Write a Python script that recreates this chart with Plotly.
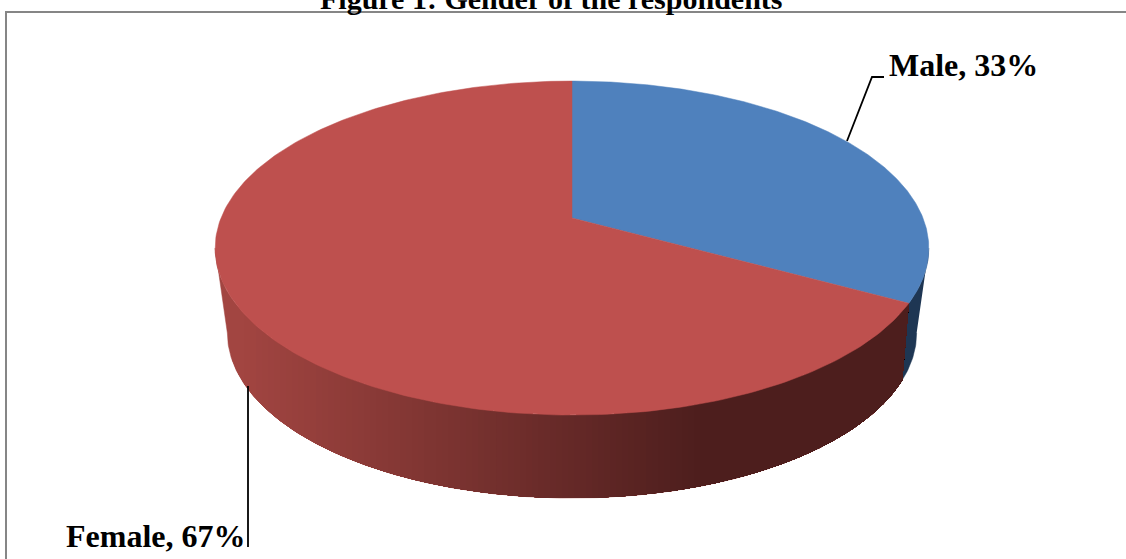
import numpy as np
import plotly.graph_objects as go

categories = ["Male", "Female"]
values = [33, 67]
top_colors = ["#4F81BD", "#BE504E"]
title_text = "Figure 1: Gender of the respondents"

W, H = 1126, 559
CX = 572.0
P = 0.18
TOP = (218.0, 351.0, 161.6)
BOT = (303.3, 339.0, 159.7)
BOTTOM_SHIFT = np.radians(2.5)


def rim(theta, y0, a, b):
    w = 1 + P * np.cos(theta)
    return CX + a * np.sin(theta) / w, y0 - b * np.cos(theta) / w


def wall_color(x):
    t = np.clip((x - 240.0) / (700.0 - 240.0), 0, 1)
    c0, c1 = (162, 69, 65), (77, 30, 29)
    return "rgb(%d,%d,%d)" % tuple(round(a + (b - a) * t) for a, b in zip(c0, c1))


def clip_right_of(xs, ys, x0):
    """Keep the part of a polygon that lies at x >= x0."""
    out_x, out_y = [], []
    n = len(xs)
    for i in range(n):
        x1, y1, x2, y2 = xs[i], ys[i], xs[(i + 1) % n], ys[(i + 1) % n]
        if x1 >= x0:
            out_x.append(x1)
            out_y.append(y1)
        if (x1 >= x0) != (x2 >= x0):
            t = (x0 - x1) / (x2 - x1)
            out_x.append(x0)
            out_y.append(y1 + t * (y2 - y1))
    return out_x, out_y


fracs = np.cumsum([0] + values) / sum(values) * 2 * np.pi
boundary = fracs[1]
right_tan = np.arccos(-P)
left_tan = 2 * np.pi - right_tan

fig = go.Figure()


def poly(xs, ys, color, line=True):
    fig.add_trace(go.Scatter(x=list(xs), y=list(ys), mode="lines", fill="toself",
                             fillcolor=color,
                             line=dict(color=color, width=0.5 if line else 0),
                             hoverinfo="skip", showlegend=False))


# Male wall
tt = np.linspace(right_tan, boundary + 0.05, 40)
bb = np.linspace(right_tan, boundary + 0.05, 40)
xt, yt = rim(tt, *TOP)
xb, yb = rim(bb, *BOT)
poly(np.r_[xt, xb[::-1]], np.r_[yt, yb[::-1]], "#1E3653")

# Female wall: same outline repainted from left to right with darker vertical bands
tt = np.linspace(boundary, left_tan, 300)
bb = np.linspace(boundary - BOTTOM_SHIFT, left_tan, 300)
xt, yt = rim(tt, *TOP)
xb, yb = rim(bb, *BOT)
wx = np.r_[xt, xb[::-1]].tolist()
wy = np.r_[yt, yb[::-1]].tolist()
poly(wx, wy, wall_color(215))
for x0 in np.arange(232, 712, 6.0):
    cx, cy = clip_right_of(wx, wy, float(x0))
    poly(cx, cy, wall_color(float(x0) + 3), line=False)

# Top faces
for i, name in enumerate(categories):
    th = np.linspace(fracs[i], fracs[i + 1], 240)
    x, y = rim(th, *TOP)
    poly(np.r_[CX, x, CX], np.r_[TOP[0], y, TOP[0]], top_colors[i])

# Leader lines
leader = dict(color="black", width=1.8)
fig.add_trace(go.Scatter(x=[847, 872, 884], y=[141, 77, 77], mode="lines", line=leader,
                         hoverinfo="skip", showlegend=False))
fig.add_trace(go.Scatter(x=[248, 248], y=[386, 547], mode="lines", line=leader,
                         hoverinfo="skip", showlegend=False))

ann = [
    dict(x=888, y=84, text="<b>%s, %d%%</b>" % (categories[0], values[0]), xanchor="left",
         yanchor="bottom", size=32),
    dict(x=247, y=555, text="<b>%s, %d%%</b>" % (categories[1], values[1]), xanchor="right",
         yanchor="bottom", size=32),
    dict(x=551, y=16, text="<b>%s</b>" % title_text, xanchor="center", yanchor="bottom", size=30),
]
for a in ann:
    size = a.pop("size")
    fig.add_annotation(showarrow=False, xref="x", yref="y", borderpad=0,
                       font=dict(family="Liberation Serif", color="black", size=size), **a)

fig.update_layout(
    width=W, height=H, margin=dict(l=0, r=0, t=0, b=0), paper_bgcolor="white", plot_bgcolor="white",
    showlegend=False,
    xaxis=dict(range=[0, W], visible=False, fixedrange=True),
    yaxis=dict(range=[H, 0], visible=False, fixedrange=True),
    shapes=[dict(type="rect", xref="x", yref="y", x0=6, y0=12, x1=1150, y1=600,
                 line=dict(color="#868686", width=2), layer="below")],
)
fig.write_html("out.html", config={"displayModeBar": False},
               post_script="document.body.style.margin='0';document.body.style.overflow='hidden';")
